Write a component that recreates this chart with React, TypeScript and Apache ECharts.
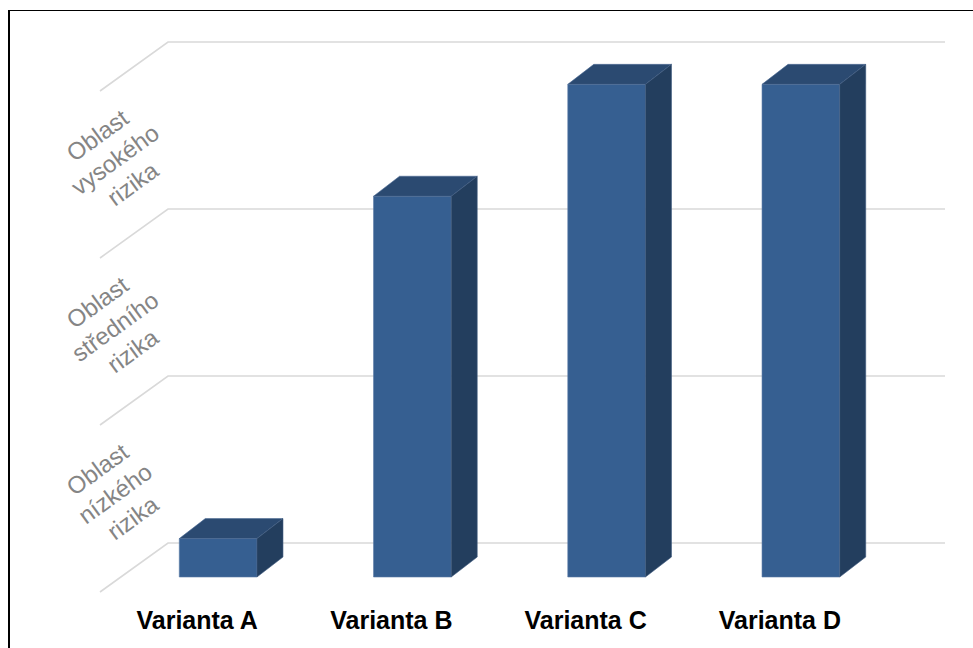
import React, { useEffect, useRef } from "react";
import * as echarts from "echarts";

const categories = ["Varianta A", "Varianta B", "Varianta C", "Varianta D"];
const values = [0.23, 2.28, 2.95, 2.95];
const gridValues = [0, 1, 2, 3];
const zoneLabels = ["Oblast\nnízkého\nrizika", "Oblast\nstředního\nrizika", "Oblast\nvysokého\nrizika"];

const FONT = "'Liberation Sans', Arial, sans-serif";
// 3D projection offsets (pixels)
const BAR_DX = 26;
const BAR_DY = 20;
const WALL_DX = 47;
const WALL_DY = 34;
const FLOOR_DX = 21;
const FLOOR_DY = 15;

export default function App() {
  const ref = useRef<HTMLDivElement>(null);
  useEffect(() => {
    if (!ref.current) return;
    const chart = echarts.init(ref.current, undefined, { renderer: "svg" });
    chart.setOption({
      animation: false,
      backgroundColor: "transparent",
      grid: { left: 121, right: 75, top: 76, bottom: 71 },
      xAxis: {
        type: "category",
        data: categories,
        axisLine: { show: false },
        axisTick: { show: false },
        splitLine: { show: false },
        axisLabel: {
          color: "#000000",
          fontFamily: FONT,
          fontSize: 25,
          fontWeight: "bold",
          margin: 30,
          padding: [0, FLOOR_DX * 2, 0, 0],
        },
      },
      yAxis: {
        type: "value",
        min: 0,
        max: 3,
        interval: 0.5,
        axisLine: { show: false },
        axisTick: { show: false },
        splitLine: { show: false },
        axisLabel: {
          color: "#858585",
          fontFamily: FONT,
          fontSize: 24,
          lineHeight: 30,
          rotate: 36,
          align: "center",
          verticalAlign: "middle",
          margin: 6,
          formatter: (v: number) => {
            const k = Math.round(v * 2);
            return k % 2 === 1 ? zoneLabels[(k - 1) / 2] : "";
          },
        },
      },
      series: [
        {
          type: "custom",
          clip: false,
          silent: true,
          data: gridValues.map((v) => [0, v]),
          encode: { x: 0, y: 1 },
          renderItem: (params: any, api: any) => {
            const cs = params.coordSys;
            const p = api.coord([0, api.value(1)]);
            const y = p[1];
            return {
              type: "polyline",
              shape: {
                points: [
                  [cs.x - FLOOR_DX, y + FLOOR_DY],
                  [cs.x + WALL_DX, y - WALL_DY],
                  [cs.x + cs.width + WALL_DX, y - WALL_DY],
                ],
              },
              style: { stroke: "#d9d9d9", lineWidth: 1.6, fill: null },
            };
          },
        },
        {
          type: "custom",
          clip: false,
          data: values.map((v, i) => [i, v]),
          encode: { x: 0, y: 1 },
          renderItem: (params: any, api: any) => {
            const i = api.value(0);
            const v = api.value(1);
            const top = api.coord([i, v]);
            const bot = api.coord([i, 0]);
            const bw = api.size([1, 0])[0] * 0.4;
            const xl = top[0] - bw / 2;
            const xr = top[0] + bw / 2;
            const yt = top[1];
            const yb = bot[1];
            return {
              type: "group",
              children: [
                {
                  type: "polygon",
                  shape: { points: [[xl, yt], [xr, yt], [xr, yb], [xl, yb]] },
                  style: { fill: "#365f91", stroke: "#5a7aa6", lineWidth: 0.6 },
                },
                {
                  type: "polygon",
                  shape: {
                    points: [
                      [xl, yt],
                      [xl + BAR_DX, yt - BAR_DY],
                      [xr + BAR_DX, yt - BAR_DY],
                      [xr, yt],
                    ],
                  },
                  style: { fill: "#2b4a71", stroke: "#4c6a94", lineWidth: 0.6 },
                },
                {
                  type: "polygon",
                  shape: {
                    points: [
                      [xr, yt],
                      [xr + BAR_DX, yt - BAR_DY],
                      [xr + BAR_DX, yb - BAR_DY],
                      [xr, yb],
                    ],
                  },
                  style: { fill: "#233e5e", stroke: "#3f5b80", lineWidth: 0.6 },
                },
              ],
            };
          },
        },
      ],
    });
    return () => chart.dispose();
  }, []);

  return (
    <div style={{ position: "fixed", left: 0, top: 0, width: 973, height: 648, background: "#fff" }}>
      <div
        style={{
          position: "absolute",
          left: 8,
          top: 10,
          width: 1200,
          height: 900,
          borderLeft: "2px solid #000",
          borderTop: "1.5px solid #000",
        }}
      />
      <div ref={ref} style={{ position: "absolute", left: 0, top: 0, width: 973, height: 648 }} />
    </div>
  );
}
